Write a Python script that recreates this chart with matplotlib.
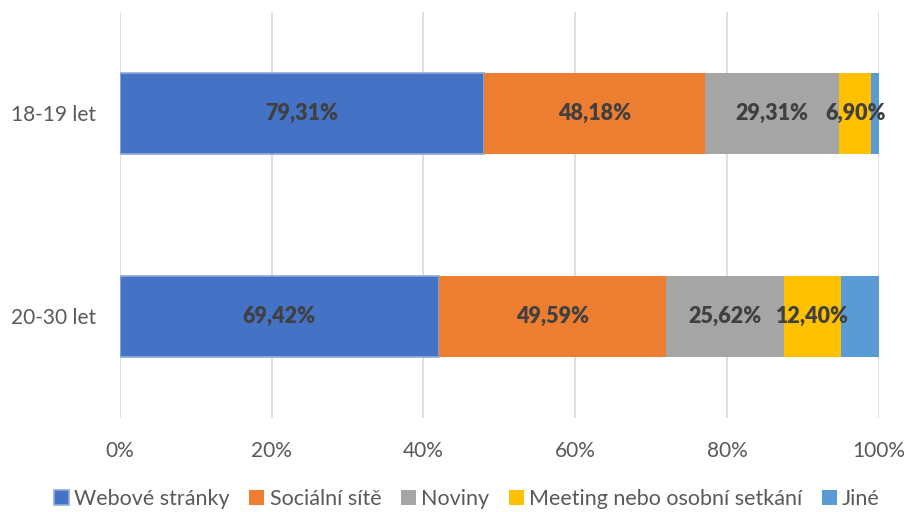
import numpy as np
from matplotlib import pyplot as plt

categories = ['18-19 let', '20-30 let']
series = ['Webové stránky', 'Sociální sítě', 'Noviny', 'Meeting nebo osobní setkání', 'Jiné']
webove = [79.31, 69.42]
socialni = [48.18, 49.59]
noviny = [29.31, 25.62]
meeting = [6.90, 12.40]
jine = [1.72, 8.26]
label_texts = [['79,31%', '69,42%'], ['48,18%', '49,59%'], ['29,31%', '25,62%'],
               ['6,90%', '12,40%'], None]

colors = ['#4472c4', '#ed7d31', '#a5a5a5', '#ffc000', '#5b9bd5']

plt.rcParams['font.family'] = ['Lato', 'DejaVu Sans']

data = np.array([webove, socialni, noviny, meeting, jine])
shares = data / data.sum(axis=0) * 100

fig = plt.figure(figsize=(9.08, 5.12), dpi=100)
ax = fig.add_axes([0.132, 0.184, 0.836, 0.793])

ypos = np.array([1, 0])
left = np.zeros(2)
for i, name in enumerate(series):
    edge = '#8faadc' if i == 0 else 'none'
    ax.barh(ypos, shares[i], left=left, height=0.4, color=colors[i],
            edgecolor=edge, linewidth=1.2, label=name, zorder=2)
    if label_texts[i] is not None:
        for j in range(2):
            ax.text(left[j] + shares[i][j] / 2, ypos[j], label_texts[i][j],
                    ha='center', va='center', fontsize=15.5, fontweight='heavy',
                    color='#404040', zorder=3)
    left += shares[i]

ax.set_xlim(0, 100)
ax.set_ylim(-0.5, 1.5)
ax.set_xticks(np.arange(0, 101, 20))
ax.set_xticklabels(['%d%%' % v for v in range(0, 101, 20)])
ax.set_yticks(ypos)
ax.set_yticklabels(categories)
ax.tick_params(length=0, labelsize=15, labelcolor='#595959')
ax.tick_params(axis='y', pad=17)
ax.tick_params(axis='x', pad=17)
ax.xaxis.grid(True, color='#d9d9d9', linewidth=1.2, zorder=0)
for s in ax.spines.values():
    s.set_visible(False)

ax.legend(loc='upper center', bbox_to_anchor=(0.457, -0.127), ncol=5, frameon=False,
          fontsize=15.5, handlelength=0.7, handleheight=0.7, handletextpad=0.25,
          columnspacing=0.9, labelcolor='#595959')

fig.savefig('out.png', dpi=100)
